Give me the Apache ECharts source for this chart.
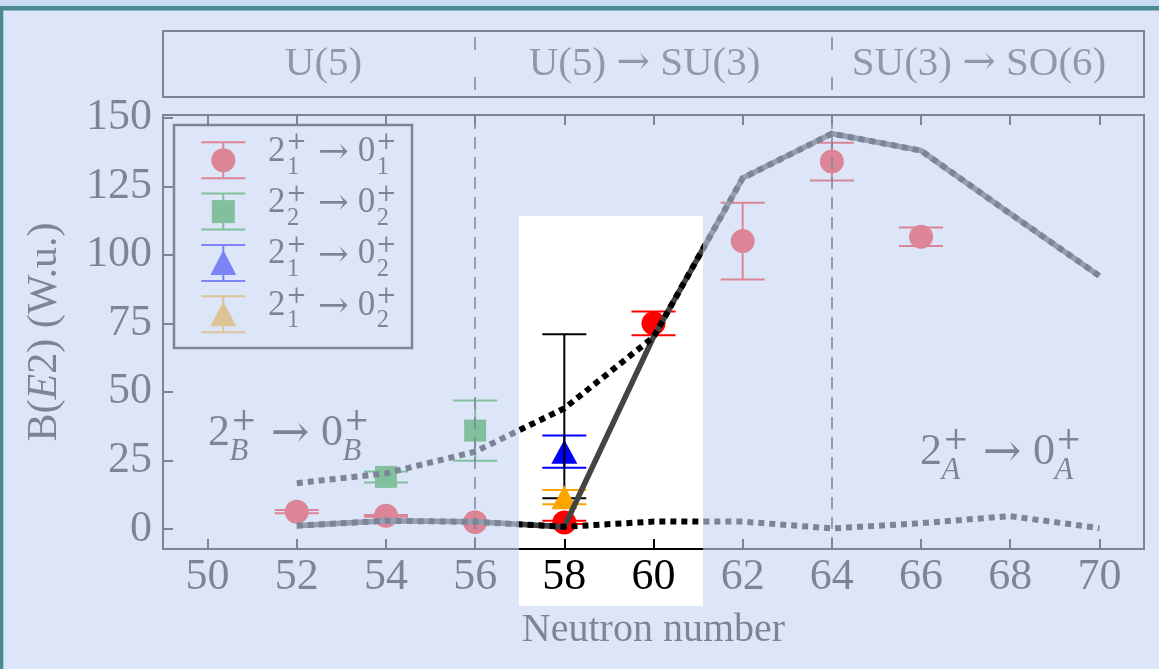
<!DOCTYPE html>
<html>
<head>
<meta charset="utf-8">
<script src="https://cdn.jsdelivr.net/npm/echarts@6/dist/echarts.min.js"></script>
<style>
html,body{margin:0;padding:0;background:#fff;}
#chart{width:1159px;height:669px;}
</style>
</head>
<body>
<div id="chart"></div>
<script>
// ---------------- data ----------------
const xTicks = [50, 52, 54, 56, 58, 60, 62, 64, 66, 68, 70];
const yTicks = [0, 25, 50, 75, 100, 125, 150];
const phaseBoundaries = [56, 64];
const phaseNames = ['U(5) {r|\u2192} SU(3)', 'SU(3) {r|\u2192} SO(6)'];
const phaseNamesAll = ['U(5)'].concat(phaseNames);
const phaseLabelN = [52.6, 59.8, 67.3];

// experimental B(E2) values (W.u.)
const n_21_01 = [52, 54, 56, 58, 60, 62, 64, 66];
const b_21_01 = [6.3, 4.8, 2.5, 2.4, 75.0, 105.0, 134.0, 106.6];
const e_21_01 = [0.6, 0.3, 0.15, 0.6, 4.3, 14.0, 6.9, 3.4];

const n_22_02 = [54, 56];
const b_22_02 = [19.0, 35.9];
const e_22_02 = [2.0, 11.0];

const n_21_02a = [58];
const b_21_02a = [28.2];
const e_21_02a = [5.9];

const n_21_02b = [58];
const b_21_02b = [11.6];
const e_21_02b = [2.6];

const n_range = [58];
const range_low = [11.2];
const range_high = [71.0];

// calculations
const theoryN = [52, 54, 56, 58, 60, 62, 64, 66, 68, 70];
const theory_21_01 = [1.2, 3.0, 2.6, 0.8, 70.0, 128.0, 144.2, 138.0, 115.0, 92.3];
const theory_B = [16.7, 20.3, 28.2, 44.0, 70.0, 128.0, 144.2, 138.0, 115.0, 92.3];
const theory_A = [1.2, 3.0, 2.6, 0.8, 2.7, 2.7, 0.2, 2.1, 4.7, 0.3];

// legend / annotation labels: [base, sup, sub, subItalic]
const legendLabels = [
  [['2', '+', '1', false], ['0', '+', '1', false]],
  [['2', '+', '2', false], ['0', '+', '2', false]],
  [['2', '+', '1', false], ['0', '+', '2', false]],
  [['2', '+', '1', false], ['0', '+', '2', false]]
];
const labelB = [['2', '+', 'B', true], ['0', '+', 'B', true]];
const labelA = [['2', '+', 'A', true], ['0', '+', 'A', true]];

// ---------------- styling ----------------
const FAM = '"Liberation Serif", "DejaVu Serif", serif';
const SYM = '"DejaVu Serif", "Liberation Serif", serif';
const RED = '#ff0000', GREEN = '#129a10', BLUE = '#0000ff', ORANGE = '#ffa500';

const measureCtx = document.createElement('canvas').getContext('2d');
function fontStr(size, italic, fam) { return (italic ? 'italic ' : '') + size + 'px ' + (fam || FAM); }
function tw(s, size, italic, fam) { measureCtx.font = fontStr(size, italic, fam); return measureCtx.measureText(s).width; }
function txt(s, x, y, size, italic, z, fam) {
  return { type: 'text', x: x, y: y, z: z, silent: true,
    style: { text: s, font: fontStr(size, italic, fam), fill: '#000',
      align: 'left', verticalAlign: 'middle', textAlign: 'left', textVerticalAlign: 'middle' } };
}
// lays out "b^{sup}_{sub} -> b^{sup}_{sub}"
function mathLabel(x, yc, F, pieces, z) {
  const els = [];
  let cx = x;
  pieces.forEach(function (p, k) {
    if (k > 0) {
      cx += 0.32 * F;
      els.push(txt('\u2192', cx, yc + 0.05 * F, F * 1.05, false, z, SYM));
      cx += tw('\u2192', F * 1.05, false, SYM) + 0.26 * F;
    }
    const s = 0.7 * F;
    els.push(txt(p[0], cx, yc, F, false, z));
    cx += tw(p[0], F, false);
    els.push(txt(p[1], cx + 0.02 * F, yc - 0.25 * F, s, false, z, SYM));
    els.push(txt(p[2], cx + 0.04 * F - (p[3] ? 0.05 * F : 0), yc + 0.44 * F, s, p[3], z));
    cx += Math.max(tw(p[1], s, false, SYM) + 0.02 * F, tw(p[2], s, p[3]));
  });
  return els;
}

function errSeries(name, N, lo, hi, color, z) {
  return {
    type: 'custom', name: name, xAxisIndex: 0, yAxisIndex: 0, z: z, silent: true,
    data: N.map(function (n, i) { return [n, lo[i], hi[i]]; }),
    encode: { x: 0, y: [1, 2] },
    renderItem: function (params, api) {
      const x = api.value(0);
      const a = api.coord([x, api.value(1)]);
      const b = api.coord([x, api.value(2)]);
      const h = 22;
      const st = { stroke: color, lineWidth: 2 };
      return { type: 'group', children: [
        { type: 'line', shape: { x1: a[0], y1: a[1], x2: b[0], y2: b[1] }, style: st },
        { type: 'line', shape: { x1: a[0] - h, y1: a[1], x2: a[0] + h, y2: a[1] }, style: st },
        { type: 'line', shape: { x1: b[0] - h, y1: b[1], x2: b[0] + h, y2: b[1] }, style: st }
      ] };
    }
  };
}
function markerSeries(name, N, V, symbol, size, color, z, extra) {
  const s = {
    type: 'scatter', name: name, xAxisIndex: 0, yAxisIndex: 0, z: z, silent: true,
    symbol: symbol, symbolSize: size,
    itemStyle: { color: color, opacity: 1 },
    data: N.map(function (n, i) { return [n, V[i]]; })
  };
  return Object.assign(s, extra || {});
}
function lineSeries(name, N, V, color, type, width, z) {
  return {
    type: 'line', name: name, xAxisIndex: 0, yAxisIndex: 0, z: z, silent: true,
    symbol: 'none', smooth: false,
    lineStyle: { color: color, width: width, type: type, cap: 'butt', join: 'miter' },
    data: N.map(function (n, i) { return [n, V[i]]; })
  };
}
const lo = function (v, e) { return v.map(function (x, i) { return x - e[i]; }); };
const hi = function (v, e) { return v.map(function (x, i) { return x + e[i]; }); };

// ---------------- graphic: legend, annotations, overlay ----------------
const graphicEls = [];
const legendColors = [RED, GREEN, BLUE, ORANGE];
const legendShapes = ['circle', 'rect', 'triangle', 'triangle'];
graphicEls.push({ type: 'rect', z: 10, silent: true, shape: { x: 174, y: 125, width: 238, height: 223 },
  style: { fill: '#ffffff', stroke: '#000', lineWidth: 2.5 } });
legendLabels.forEach(function (lab, i) {
  const cy = 160.3 + 51.3 * i, cx = 223.3, c = legendColors[i];
  const st = { stroke: c, lineWidth: 2 };
  graphicEls.push({ type: 'line', z: 11, silent: true, shape: { x1: cx, y1: cy - 18, x2: cx, y2: cy + 18 }, style: st });
  graphicEls.push({ type: 'line', z: 11, silent: true, shape: { x1: cx - 22, y1: cy - 18, x2: cx + 22, y2: cy - 18 }, style: st });
  graphicEls.push({ type: 'line', z: 11, silent: true, shape: { x1: cx - 22, y1: cy + 18, x2: cx + 22, y2: cy + 18 }, style: st });
  let m;
  if (legendShapes[i] === 'circle') m = { type: 'circle', shape: { cx: cx, cy: cy, r: 12 } };
  else if (legendShapes[i] === 'rect') m = { type: 'rect', shape: { x: cx - 11.5, y: cy - 11.5, width: 23, height: 23 } };
  else m = { type: 'polygon', shape: { points: [[cx, cy - 13], [cx - 13, cy + 12], [cx + 13, cy + 12]] } };
  m.z = 12; m.silent = true; m.style = { fill: c };
  graphicEls.push(m);
  mathLabel(268, cy - 8.6, 35, lab, 12).forEach(function (e) { graphicEls.push(e); });
});
mathLabel(208, 433, 44, labelB, 12).forEach(function (e) { graphicEls.push(e); });
mathLabel(920, 452, 44, labelA, 12).forEach(function (e) { graphicEls.push(e); });

// fading overlay leaving a highlighted window
const OV = 'rgba(199,215,244,0.62)';
const HX0 = 519, HX1 = 703, HY0 = 216, HY1 = 606, W = 1159, H = 669;
[[0, 0, W, HY0], [0, HY1, W, H - HY1], [0, HY0, HX0, HY1 - HY0], [HX1, HY0, W - HX1, HY1 - HY0]].forEach(function (r) {
  graphicEls.push({ type: 'rect', z: 100, silent: true, shape: { x: r[0], y: r[1], width: r[2], height: r[3] }, style: { fill: OV } });
});
// frame
graphicEls.push({ type: 'rect', z: 101, silent: true, shape: { x: 0, y: 0, width: W, height: 6 }, style: { fill: '#c8daf3' } });
graphicEls.push({ type: 'rect', z: 101, silent: true, shape: { x: 0, y: 6, width: W, height: 4.5 }, style: { fill: '#4a8892' } });
graphicEls.push({ type: 'rect', z: 101, silent: true, shape: { x: 0, y: 6, width: 3.3, height: H - 6 }, style: { fill: '#4a8892' } });

// ---------------- option ----------------
const axisBlack = { color: '#000', width: 2 };
const option = {
  animation: false,
  backgroundColor: '#ffffff',
  grid: [
    { left: 163, right: 15, top: 115, bottom: 120, show: true, borderColor: '#000', borderWidth: 2, backgroundColor: 'transparent' },
    { left: 163, right: 15, top: 31, height: 66, show: true, borderColor: '#000', borderWidth: 2, backgroundColor: 'transparent' }
  ],
  xAxis: [
    { type: 'value', gridIndex: 0, min: 49, max: 71,
      name: 'Neutron number', nameLocation: 'middle', nameGap: 61,
      nameTextStyle: { fontFamily: FAM, fontSize: 40, color: '#000' },
      axisLine: { show: true, onZero: false, lineStyle: axisBlack },
      axisTick: { show: true, inside: true, length: 10, lineStyle: axisBlack, customValues: xTicks },
      axisLabel: { show: true, customValues: xTicks, fontFamily: FAM, fontSize: 44, color: '#000', margin: 6 },
      splitLine: { show: false } },
    { type: 'value', gridIndex: 1, min: 49, max: 71, show: false },
    { type: 'value', gridIndex: 0, position: 'top', min: 49, max: 71,
      axisLine: { show: true, onZero: false, lineStyle: axisBlack },
      axisTick: { show: true, inside: true, length: 10, lineStyle: axisBlack, customValues: xTicks },
      axisLabel: { show: false }, splitLine: { show: false } }
  ],
  yAxis: [
    { type: 'value', gridIndex: 0, min: -7.3, max: 151,
      name: 'B({i|E}2) (W.u.)', nameLocation: 'middle', nameRotate: 90, nameGap: 97,
      nameTextStyle: { fontFamily: FAM, fontSize: 42, color: '#000',
        rich: { i: { fontFamily: FAM, fontSize: 42, fontStyle: 'italic', color: '#000' } } },
      axisLine: { show: true, onZero: false, lineStyle: axisBlack },
      axisTick: { show: true, inside: true, length: 10, lineStyle: axisBlack, customValues: yTicks },
      axisLabel: { show: true, customValues: yTicks, fontFamily: FAM, fontSize: 44, color: '#000', margin: 11 },
      splitLine: { show: false } },
    { type: 'value', gridIndex: 1, min: 0, max: 1, show: false }
  ],
  series: [
    { type: 'scatter', name: 'phases', xAxisIndex: 1, yAxisIndex: 1, silent: true,
      symbolSize: 1, itemStyle: { color: 'rgba(0,0,0,0)' },
      data: phaseLabelN.map(function (n) { return [n, 0.5]; }),
      label: { show: true, position: 'inside', color: '#000', fontFamily: FAM, fontSize: 41,
        rich: { r: { fontFamily: SYM, fontSize: 40, color: '#000' } },
        formatter: function (p) { return phaseNamesAll[p.dataIndex]; } },
      markLine: { silent: true, symbol: 'none', label: { show: false },
        lineStyle: { color: '#000', width: 1.5, type: [13, 27], dashOffset: 33 },
        data: phaseBoundaries.map(function (v) { return { xAxis: v }; }) } },

    errSeries('2_1 -> 0_1 err', n_21_01, lo(b_21_01, e_21_01), hi(b_21_01, e_21_01), RED, 2),
    markerSeries('2_1 -> 0_1', n_21_01, b_21_01, 'circle', 24, RED, 3, {
      markLine: { silent: true, symbol: 'none', label: { show: false },
        lineStyle: { color: '#000', width: 1.5, type: [12, 8] },
        data: phaseBoundaries.map(function (v) { return { xAxis: v }; }) } }),
    errSeries('2_2 -> 0_2 err', n_22_02, lo(b_22_02, e_22_02), hi(b_22_02, e_22_02), GREEN, 2),
    markerSeries('2_2 -> 0_2', n_22_02, b_22_02, 'rect', 22, GREEN, 3),
    errSeries('2_1 -> 0_2 (a) err', n_21_02a, lo(b_21_02a, e_21_02a), hi(b_21_02a, e_21_02a), BLUE, 2),
    markerSeries('2_1 -> 0_2 (a)', n_21_02a, b_21_02a, 'triangle', [26, 24], BLUE, 3),
    errSeries('range', n_range, range_low, range_high, '#000', 4),
    errSeries('2_1 -> 0_2 (b) err', n_21_02b, lo(b_21_02b, e_21_02b), hi(b_21_02b, e_21_02b), ORANGE, 5),
    markerSeries('2_1 -> 0_2 (b)', n_21_02b, b_21_02b, 'triangle', [26, 24], ORANGE, 5),

    lineSeries('theory 2_1 -> 0_1', theoryN, theory_21_01, '#444444', 'solid', 5.5, 6),
    lineSeries('theory B', theoryN, theory_B, '#000000', [6, 5], 6, 7),
    lineSeries('theory A', theoryN, theory_A, '#000000', [6, 5], 6, 7)
  ],
  graphic: { elements: graphicEls }
};

const chart = echarts.init(document.getElementById('chart'), null, { renderer: 'canvas', width: 1159, height: 669 });
chart.setOption(option);
</script>
</body>
</html>
